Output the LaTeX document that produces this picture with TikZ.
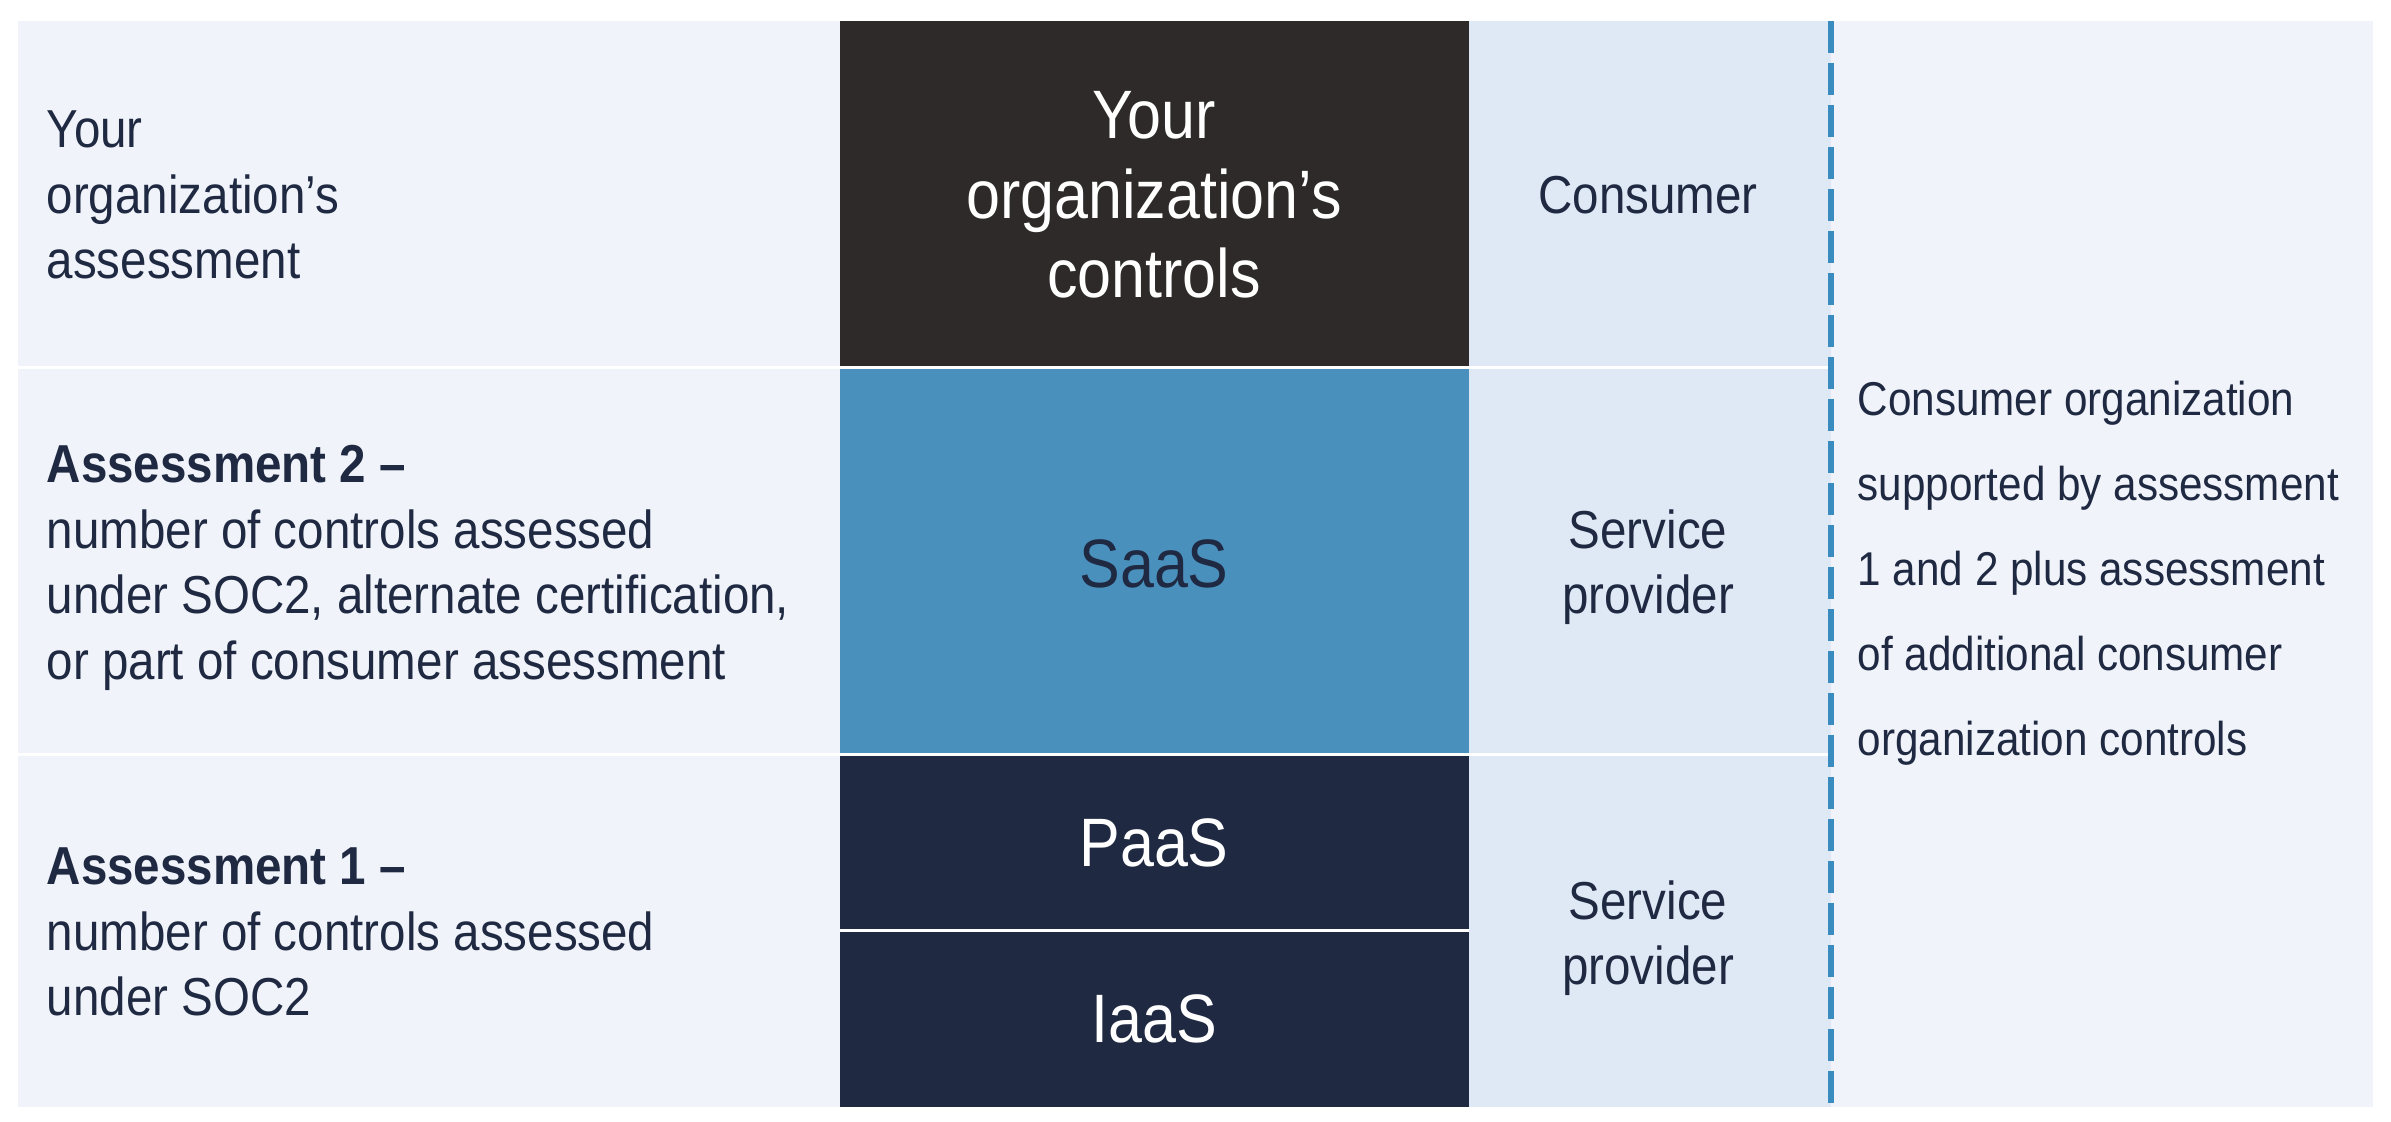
\documentclass[tikz,border=0pt]{standalone}
\usepackage{fontspec}
\setmainfont{Liberation Sans}[FakeStretch=0.89]
\usepackage{tikz}
\usetikzlibrary{positioning}
\definecolor{cmpanel}{HTML}{F0F4FA}
\definecolor{cmrole}{HTML}{DEE9F5}
\definecolor{cmown}{HTML}{2D2A29}
\definecolor{cmsaas}{HTML}{4A90BD}
\definecolor{cmnavy}{HTML}{1F2942}
\definecolor{cmink}{HTML}{1F2942}
\definecolor{cmdash}{HTML}{3A8BC0}
\tikzset{
  lefttxt/.style = {anchor=west, align=left, inner sep=0pt, text=cmink,
                    font=\fontsize{15.2}{18.7}\selectfont},
  midtxt/.style  = {align=center, inner sep=0pt, text=white,
                    font=\fontsize{19.5}{22.6}\selectfont},
  roletxt/.style = {align=center, inner sep=0pt, text=cmink,
                    font=\fontsize{15.2}{18.4}\selectfont},
  notetxt/.style = {anchor=west, align=left, inner sep=0pt, text=cmink,
                    font=\fontsize{13.5}{24.2}\selectfont},
  divider/.style = {cmdash, line width=0.55mm, dash pattern=on 3.2mm off 1mm},
}

\begin{document}
\begin{tikzpicture}[x=0.1mm,y=-0.1mm]
\def\xl{18}     % left edge
\def\xm{840}    % controls column
\def\xr{1469}   % role column
\def\xd{1831}   % divider
\def\xe{2373}   % right edge
\useasboundingbox[fill=white] (0,0) rectangle (2391,1122);

% -- row panels (left labels and roles) --------------------------------------
\foreach \ya/\yb in {21/366, 369/753, 756/1107}{
  \fill[cmpanel] (\xl,\ya) rectangle (\xm,\yb);
  \fill[cmrole]  (\xr,\ya) rectangle (\xd,\yb);
}
% -- the stack of controls ---------------------------------------------------
\fill[cmown]  (\xm,21)  rectangle (\xr,366);
\fill[cmsaas] (\xm,369) rectangle (\xr,753);
\fill[cmnavy] (\xm,756) rectangle (\xr,929);
\fill[cmnavy] (\xm,932) rectangle (\xr,1107);
% -- consumer panel ----------------------------------------------------------
\fill[cmpanel] (\xd,21) rectangle (\xe,1107);
\draw[divider] (\xd,21) -- (\xd,1107);

% -- left labels -------------------------------------------------------------
\node[lefttxt] (own) at (46,195) {Your\\organization’s\\assessment};
\node[lefttxt] (asstwo) at (46,568) {\textbf{Assessment 2 –}\\number of controls assessed\\
  under SOC2, alternate certification,\\or part of consumer assessment};
\node[lefttxt] (assone) at (46,932) {\textbf{Assessment 1 –}\\number of controls assessed\\under SOC2};

% -- controls ----------------------------------------------------------------
\node[midtxt] (ctrl) at (1154,195) {Your\\organization’s\\controls};
\node[midtxt, text=cmink] (saas) at (1154,564) {SaaS};
\node[midtxt] (paas) at (1154,843) {PaaS};
\node[midtxt] (iaas) at (1154,1019) {IaaS};

% -- roles -------------------------------------------------------------------
\node[roletxt] (cons) at (1648,195) {Consumer};
\node[roletxt] (provtwo) at (1648,567) {Service\\provider};
\node[roletxt] (provone) at (1648,938) {Service\\provider};

% -- note --------------------------------------------------------------------
\node[notetxt] (note) at (1857,573) {Consumer organization\\supported by assessment\\
  1 and 2 plus assessment\\of additional consumer\\organization controls};
\end{tikzpicture}
\end{document}
